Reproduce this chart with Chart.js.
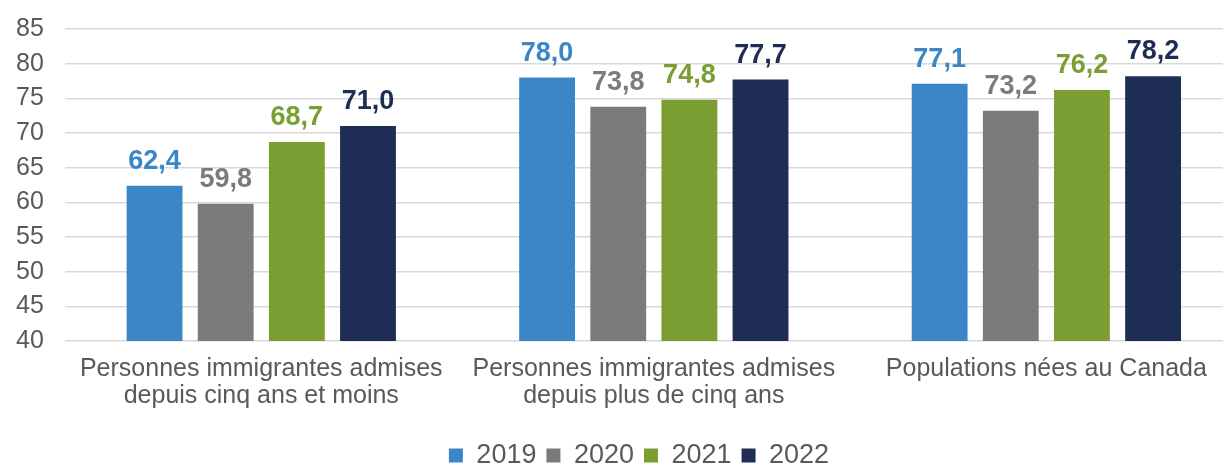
<!DOCTYPE html>
<html lang="fr">
<head>
<meta charset="UTF-8">
<title>Taux d'emploi</title>
<script src="https://cdn.jsdelivr.net/npm/chart.js"></script>
<style>
  body { margin: 0; background: #fff; }
  #wrap { width: 1223px; height: 464px; position: relative; }
</style>
</head>
<body>
<div id="wrap"><canvas id="chart"></canvas></div>
<script>
// categories and yearly series
const categories = [
  ['Personnes immigrantes admises', 'depuis cinq ans et moins'],
  ['Personnes immigrantes admises', 'depuis plus de cinq ans'],
  'Populations nées au Canada'
];
const years = ['2019', '2020', '2021', '2022'];
const v2019 = [62.4, 78.0, 77.1];
const v2020 = [59.8, 73.8, 73.2];
const v2021 = [68.7, 74.8, 76.2];
const v2022 = [71.0, 77.7, 78.2];
const yTicks = [40, 45, 50, 55, 60, 65, 70, 75, 80, 85];

const colors = ['#3A86C6', '#7A7B7A', '#7A9E31', '#1E2D55'];
const series = [v2019, v2020, v2021, v2022];
const FONT = '"Liberation Sans", Arial, sans-serif';

// value labels above each bar, French decimal comma
const valueLabels = {
  id: 'valueLabels',
  afterDatasetsDraw(chart) {
    const ctx = chart.ctx;
    ctx.save();
    ctx.font = 'bold 27px ' + FONT;
    ctx.textAlign = 'center';
    ctx.textBaseline = 'alphabetic';
    chart.data.datasets.forEach((ds, i) => {
      chart.getDatasetMeta(i).data.forEach((bar, j) => {
        ctx.fillStyle = ds.backgroundColor;
        ctx.fillText(ds.data[j].y.toFixed(1).replace('.', ','), bar.x, bar.y - 17);
      });
    });
    ctx.restore();
  }
};

new Chart(document.getElementById('chart'), {
  type: 'bar',
  data: {
    datasets: years.map((y, i) => ({
      label: y,
      data: series[i].map((v, k) => ({ x: k, y: v })),
      backgroundColor: colors[i],
      barPercentage: 0.785,
      categoryPercentage: 0.725
    }))
  },
  options: {
    responsive: true,
    maintainAspectRatio: false,
    animation: false,
    layout: { padding: { top: 29, right: 0, left: 55, bottom: -15 } },
    scales: {
      // linear x so the last group can run off the right edge
      x: {
        type: 'linear',
        min: -0.5,
        max: 2.45,
        offset: false,
        afterBuildTicks: axis => { axis.ticks = categories.map((c, k) => ({ value: k })); },
        grid: { display: false, drawTicks: false },
        border: { display: false },
        afterFit: axis => { axis.height = 91; },
        ticks: {
          callback: v => categories[v],
          color: '#595959',
          font: { family: FONT, size: 25, lineHeight: 1.08 },
          padding: 15,
          maxRotation: 0,
          autoSkip: false
        }
      },
      y: {
        min: 40,
        max: 85,
        afterBuildTicks: axis => { axis.ticks = yTicks.map(v => ({ value: v })); },
        afterFit: axis => { axis.width = 10; },
        grid: { color: '#D9D9D9', lineWidth: 1.5, drawTicks: false },
        border: { display: false },
        ticks: {
          mirror: true,
          color: '#595959',
          font: { family: FONT, size: 25 },
          padding: -49
        }
      }
    },
    plugins: {
      legend: {
        position: 'bottom',
        labels: {
          color: '#595959',
          font: { family: FONT, size: 27 },
          boxWidth: 14,
          boxHeight: 14,
          padding: 10
        }
      },
      tooltip: { enabled: false }
    }
  },
  plugins: [valueLabels]
});
</script>
</body>
</html>
